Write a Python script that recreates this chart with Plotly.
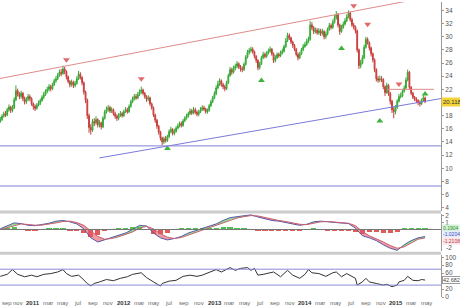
import plotly.graph_objects as go
import pandas as pd

# ---------------- weekly OHLC ----------------
close = [17.4,17.9,18.3,18.1,18.9,19.3,18.8,19.2,20.4,21.8,
21.3,20.9,21.4,20.6,20.1,20.5,20.9,20.6,19.8,19.4,
19.1,19.6,19.9,20.3,20.8,21.2,21.7,22.0,22.4,22.1,
22.7,23.3,23.6,24.1,24.6,24.4,25.1,24.7,23.9,23.2,
22.7,23.1,22.6,22.9,23.6,24.3,23.8,23.0,21.6,20.4,
18.0,16.2,15.8,17.1,16.9,17.4,16.6,16.9,16.3,17.6,
18.6,18.9,19.2,18.7,18.9,18.3,17.9,17.6,18.1,18.3,
18.0,18.6,18.9,18.6,19.4,20.1,20.5,20.9,20.7,21.2,
21.6,21.9,21.4,20.9,20.5,20.7,19.8,19.2,18.1,17.3,
16.4,15.5,14.6,14.0,14.5,14.2,14.8,15.6,15.9,15.3,
15.6,16.1,16.4,16.8,16.5,17.2,17.6,17.9,18.3,18.7,
18.4,18.9,18.5,18.2,18.6,18.9,19.2,19.0,18.6,18.8,
19.5,20.1,20.7,21.3,22.2,22.8,23.3,22.7,22.4,22.1,
23.0,24.1,25.0,24.6,25.2,25.5,25.9,25.4,25.1,25.0,
25.8,26.9,27.6,27.9,28.1,27.7,27.0,26.4,25.3,25.9,
26.8,27.3,27.0,27.5,27.8,28.1,27.4,26.4,26.8,27.3,
27.1,27.5,27.8,28.5,29.4,30.2,29.8,29.2,28.7,28.1,
27.3,26.8,27.4,28.0,28.5,28.8,29.3,29.6,31.8,31.4,
30.8,31.0,30.6,30.9,30.5,30.8,30.0,30.4,31.1,31.7,
31.4,32.2,32.9,33.4,31.8,30.8,31.4,31.9,32.4,33.0,
33.6,32.6,31.8,31.5,30.9,28.0,25.6,26.0,26.8,28.4,
29.6,29.1,28.3,27.4,26.5,25.0,23.6,23.4,23.6,23.5,
22.4,21.5,22.6,21.4,20.2,18.9,18.6,19.3,20.2,20.9,
21.0,21.7,22.2,23.4,24.6,22.3,21.4,20.8,20.5,20.3,
20.0,19.8,20.3,20.7,20.12]

open_ = [17.1,17.4,17.9,18.3,18.1,18.9,19.3,18.8,19.2,20.4,
21.8,21.3,20.9,21.4,20.6,20.1,20.5,20.9,20.6,19.8,
19.4,19.1,19.6,19.9,20.3,20.8,21.2,21.7,22.0,22.4,
22.1,22.7,23.3,23.6,24.1,24.6,24.4,25.1,24.7,23.9,
23.2,22.7,23.1,22.6,22.9,23.6,24.3,23.8,23.0,21.6,
20.4,18.0,16.2,15.8,17.1,16.9,17.4,16.6,16.9,16.3,
17.6,18.6,18.9,19.2,18.7,18.9,18.3,17.9,17.6,18.1,
18.3,18.0,18.6,18.9,18.6,19.4,20.1,20.5,20.9,20.7,
21.2,21.6,21.9,21.4,20.9,20.5,20.7,19.8,19.2,18.1,
17.3,16.4,15.5,14.6,14.0,14.5,14.2,14.8,15.6,15.9,
15.3,15.6,16.1,16.4,16.8,16.5,17.2,17.6,17.9,18.3,
18.7,18.4,18.9,18.5,18.2,18.6,18.9,19.2,19.0,18.6,
18.8,19.5,20.1,20.7,21.3,22.2,22.8,23.3,22.7,22.4,
22.1,23.0,24.1,25.0,24.6,25.2,25.5,25.9,25.4,25.1,
25.0,25.8,26.9,27.6,27.9,28.1,27.7,27.0,26.4,25.3,
25.9,26.8,27.3,27.0,27.5,27.8,28.1,27.4,26.4,26.8,
27.3,27.1,27.5,27.8,28.5,29.4,30.2,29.8,29.2,28.7,
28.1,27.3,26.8,27.4,28.0,28.5,28.8,29.3,29.6,31.8,
31.4,30.8,31.0,30.6,30.9,30.5,30.8,30.0,30.4,31.1,
31.7,31.4,32.2,32.9,33.4,31.8,30.8,31.4,31.9,32.4,
33.0,33.6,32.6,31.8,31.5,30.9,28.0,25.6,26.0,26.8,
28.4,29.6,29.1,28.3,27.4,26.5,25.0,23.6,23.4,23.6,
23.5,22.4,21.5,22.6,21.4,20.2,18.9,18.6,19.3,20.2,
20.9,21.0,21.7,22.2,23.4,24.6,22.3,21.4,20.8,20.5,
20.3,20.0,19.8,20.3,20.7]

high = [17.8,18.2,18.6,18.7,19.2,19.7,19.5,19.6,20.8,22.6,
22.1,21.6,21.8,21.6,20.9,20.8,21.3,21.2,20.8,20.0,
19.7,19.9,20.3,20.6,21.1,21.6,22.0,22.4,22.8,22.7,
23.0,23.6,24.0,24.5,25.0,25.1,25.6,25.4,24.9,24.1,
23.4,23.5,23.3,23.3,24.0,24.8,24.6,24.0,23.2,21.8,
20.6,18.3,16.7,17.5,17.6,17.9,17.6,17.3,17.1,17.9,
18.9,19.4,19.6,19.5,19.3,19.1,18.6,18.2,18.4,18.7,
18.6,18.9,19.3,19.2,19.7,20.4,20.9,21.3,21.3,21.6,
22.0,22.4,22.1,21.6,21.1,21.1,20.9,20.0,19.4,18.3,
17.5,16.6,15.7,14.8,14.8,14.9,15.1,15.9,16.3,16.1,
16.0,16.4,16.8,17.1,17.1,17.5,17.9,18.3,18.6,19.1,
19.0,19.3,19.2,18.8,18.9,19.3,19.6,19.5,19.2,19.1,
19.8,20.4,21.0,21.7,22.6,23.3,23.7,23.5,23.0,22.7,
23.3,24.4,25.4,25.3,25.6,25.9,26.3,26.1,25.7,25.5,
26.1,27.2,28.0,28.3,28.5,28.4,27.9,27.2,26.6,26.2,
27.1,27.7,27.6,27.8,28.2,28.5,28.3,27.6,27.2,27.6,
27.6,27.9,28.2,28.8,29.8,30.6,30.5,30.0,29.4,28.9,
28.3,27.6,27.7,28.3,28.9,29.2,29.7,30.0,32.4,32.2,
31.6,31.4,31.3,31.3,31.2,31.2,31.0,30.8,31.4,32.1,
32.0,32.6,33.3,33.9,33.6,32.0,31.8,32.3,32.8,33.4,
34.0,33.8,32.9,32.1,31.7,31.1,28.2,26.5,27.2,28.8,
30.0,29.9,29.3,28.5,27.6,26.7,25.2,24.0,24.1,24.0,
23.7,22.6,23.0,22.8,21.6,20.4,19.3,19.6,20.5,21.3,
21.5,22.0,22.6,23.8,25.0,24.8,22.5,21.6,21.0,20.8,
20.5,20.3,20.6,21.1,20.9]

low = [16.9,17.2,17.7,17.8,17.9,18.6,18.4,18.5,19.0,20.2,
20.9,20.5,20.6,20.2,19.7,19.8,20.2,20.2,19.5,18.9,
18.7,18.9,19.4,19.6,20.1,20.5,21.0,21.4,21.7,21.7,
21.9,22.5,23.0,23.4,23.9,24.0,24.2,24.3,23.5,22.9,
22.3,22.4,22.2,22.3,22.7,23.4,23.5,22.6,21.2,19.9,
17.5,15.4,15.1,15.5,16.4,16.6,16.2,16.2,15.9,16.1,
17.4,18.3,18.6,18.4,18.4,18.0,17.5,17.2,17.3,17.8,
17.7,17.8,18.4,18.3,18.4,19.2,19.9,20.3,20.4,20.5,
21.0,21.3,21.1,20.6,20.1,20.2,19.5,18.9,17.8,16.9,
16.0,15.1,14.2,13.5,13.7,13.9,14.0,14.6,15.3,15.0,
15.0,15.4,15.9,16.2,16.2,16.3,17.0,17.4,17.7,18.1,
18.1,18.2,18.2,17.9,17.9,18.4,18.7,18.7,18.3,18.3,
18.6,19.3,19.9,20.5,21.1,22.0,22.5,22.4,22.0,21.7,
21.9,22.8,23.9,24.2,24.4,24.9,25.2,25.1,24.7,24.6,
24.8,25.6,26.7,27.3,27.6,27.4,26.7,26.0,24.9,25.0,
25.7,26.6,26.7,26.8,27.3,27.6,27.1,26.0,26.1,26.6,
26.8,26.9,27.3,27.6,28.3,29.2,29.5,28.9,28.3,27.8,
27.0,26.4,26.6,27.2,27.8,28.3,28.6,29.0,29.4,31.0,
30.4,30.5,30.3,30.3,30.1,30.2,29.6,29.7,30.2,30.9,
31.1,31.2,32.0,32.6,31.4,30.3,30.6,31.2,31.7,32.2,
32.8,32.3,31.5,31.1,30.5,27.6,25.1,25.2,25.8,26.6,
28.2,28.8,27.9,27.0,26.1,24.6,23.2,23.0,23.1,23.1,
22.0,21.0,21.3,21.0,19.7,18.4,17.6,18.2,19.0,20.0,
20.6,20.8,21.5,22.0,23.2,22.0,21.1,20.5,20.2,19.9,
19.6,19.4,19.6,20.1,19.9]

first_week = "2010-08-23"
x_range = ["2010-08-22", "2015-06-30"]
last_price = 20.118

# ---------------- signals (week index, price) ----------------
sell_idx = [38, 81, 203, 211, 229]
sell_px = [26.5, 23.6, 34.7, 31.9, 22.8]
buy_idx = [96, 150, 196, 218, 244]
buy_px = [13.0, 23.35, 28.2, 17.2, 21.3]

# ---------------- drawn lines ----------------
upper_trend = [("2010-08-22", 23.65), ("2015-06-30", 36.4)]
lower_trend = [("2011-09-26", 11.57), ("2015-06-30", 20.6)]
support_levels = [13.4, 7.3]
resist_line = [("2014-11-25", 22.0), ("2015-06-02", 22.0)]

# ---------------- MACD (every 4 weeks) ----------------
macd_idx = list(range(0, 245, 4))
macd = [0.1,0.5,0.95,0.85,0.6,0.55,0.7,0.9,1.2,1.3,
1.1,0.8,0.1,-1.2,-1.8,-1.5,-1.2,-0.8,-0.5,0.0,
0.6,0.5,-0.5,-1.2,-1.5,-1.3,-1.0,-0.5,-0.2,0.2,
0.5,0.8,1.3,1.7,1.85,2.0,2.1,1.8,1.5,1.3,
1.2,1.0,0.8,0.6,0.75,1.1,1.2,1.1,0.95,0.9,
0.85,0.2,-0.9,-1.2,-1.6,-2.2,-2.7,-3.0,-2.2,-1.6,
-1.2,-1.02]
signal = [0.0,0.25,0.6,0.8,0.72,0.62,0.63,0.75,0.95,1.15,
1.2,1.0,0.6,-0.2,-1.0,-1.4,-1.3,-1.05,-0.75,-0.35,
0.2,0.45,0.1,-0.6,-1.1,-1.3,-1.15,-0.8,-0.45,-0.05,
0.3,0.6,0.95,1.35,1.65,1.85,2.0,1.95,1.7,1.5,
1.3,1.15,0.95,0.75,0.7,0.9,1.1,1.15,1.05,0.95,
0.9,0.55,-0.3,-0.9,-1.3,-1.8,-2.3,-2.7,-2.5,-1.9,
-1.4,-1.21]
hist = [0.1,0.25,0.35,0.05,-0.12,-0.07,0.07,0.15,0.25,0.15,
-0.1,-0.2,-0.5,-1.0,-0.8,-0.1,0.1,0.25,0.25,0.35,
0.4,0.05,-0.6,-0.6,-0.4,0.0,0.15,0.3,0.25,0.25,
0.2,0.2,0.35,0.35,0.2,0.15,0.1,-0.15,-0.2,-0.2,
-0.1,-0.15,-0.15,-0.15,0.05,0.2,0.1,-0.05,-0.1,-0.05,
-0.05,-0.35,-0.6,-0.3,-0.3,-0.4,-0.4,-0.3,0.3,0.3,
0.2,0.19]
macd_labels = [("0.1904", 0.25, "#2c8c2c", "#d6f2d6"),
               ("-1.0204", -0.7, "#3a4fc0", "#e6ecfa"),
               ("-1.2108", -1.65, "#c04050", "#fbe3e6")]
macd_axis_ticks = [1, 2]
macd_low_tick = ("-2", -2.6)

# ---------------- RSI ----------------
rsi_idx = [0,4,7,10,14,18,21,25,29,33,36,38,41,45,47,50,52,54,57,61,
65,69,73,76,81,84,88,92,93,97,101,105,109,113,116,120,124,127,132,135,
138,142,144,146,148,151,157,161,165,168,172,175,177,179,183,187,191,193,196,199,
202,204,205,208,210,212,216,220,222,225,228,229,232,234,237,240,242,244]
rsi = [52,57,69,57,51,55,51,57,59,63,69,59,52,55,47,34,28,34,38,44,
41,47,51,57,61,49,38,27.5,34,40,42,52,55,52,55,61,69,63,74,67,
72,74,67,72,55,57,63,51,67,55,47,57,69,61,59,52,61,63,51,59,
52,47,30,38,47,38,34,30,32,26,30,38,42,52,42,41,44,42.682]
rsi_levels = [70, 30]

# ---------------- x tick labels ----------------
xtick_dates = ["2010-09-01","2010-11-01","2011-01-01","2011-03-01","2011-05-01","2011-07-01",
"2011-09-01","2011-11-01","2012-01-01","2012-03-01","2012-05-01","2012-07-01",
"2012-09-01","2012-11-01","2013-01-01","2013-03-01","2013-05-01","2013-07-01",
"2013-09-01","2013-11-01","2014-01-01","2014-03-01","2014-05-01","2014-07-01",
"2014-09-01","2014-11-01","2015-01-01","2015-03-01","2015-05-01"]
xtick_text = ["sep","nov","2011","mar","may","jul","sep","nov","2012","mar","may","jul",
"sep","nov","2013","mar","may","jul","sep","nov","2014","mar","may","jul",
"sep","nov","2015","mar","may"]

# ================= figure =================
dates = pd.date_range(first_week, periods=len(close), freq="7D")
FONT = "Liberation Sans"
NARROW = "Liberation Sans Narrow, Liberation Sans"
fig = go.Figure()

fig.add_trace(go.Candlestick(
    x=dates, open=open_, high=high, low=low, close=close,
    increasing=dict(line=dict(color="#33a833", width=1), fillcolor="#66d966"),
    decreasing=dict(line=dict(color="#c83c3c", width=1), fillcolor="#e86868"),
    whiskerwidth=0, xaxis="x", yaxis="y", showlegend=False, hoverinfo="skip"))

fig.add_trace(go.Scatter(x=[dates[i] for i in sell_idx], y=sell_px, mode="markers",
    marker=dict(symbol="triangle-down", size=6, color="#e06a6a"),
    xaxis="x", yaxis="y", showlegend=False, hoverinfo="skip"))
fig.add_trace(go.Scatter(x=[dates[i] for i in buy_idx], y=buy_px, mode="markers",
    marker=dict(symbol="triangle-up", size=6, color="#3cb43c"),
    xaxis="x", yaxis="y", showlegend=False, hoverinfo="skip"))

for pts, col in [(upper_trend, "#e08a8a"), (lower_trend, "#7a7ad8"), (resist_line, "#e08a8a")]:
    fig.add_trace(go.Scatter(x=[p[0] for p in pts], y=[p[1] for p in pts], mode="lines",
        line=dict(color=col, width=1), xaxis="x", yaxis="y", showlegend=False, hoverinfo="skip"))

# MACD band polygons
mdates = [dates[i] for i in macd_idx]
gx, gy, rx, ry = [], [], [], []
for k in range(len(macd) - 1):
    px = [mdates[k], mdates[k+1], mdates[k+1], mdates[k], mdates[k], None]
    py = [macd[k], macd[k+1], signal[k+1], signal[k], macd[k], None]
    if (macd[k] + macd[k+1]) >= (signal[k] + signal[k+1]):
        gx += px; gy += py
    else:
        rx += px; ry += py
fig.add_trace(go.Scatter(x=gx, y=gy, fill="toself", fillcolor="rgba(70,200,70,0.6)",
    mode="none", xaxis="x", yaxis="y2", showlegend=False, hoverinfo="skip"))
fig.add_trace(go.Scatter(x=rx, y=ry, fill="toself", fillcolor="rgba(230,90,100,0.6)",
    mode="none", xaxis="x", yaxis="y2", showlegend=False, hoverinfo="skip"))
fig.add_trace(go.Bar(x=mdates, y=hist, width=3*7*86400000,
    marker=dict(color=["#4cc24c" if h >= 0 else "#e05a5a" for h in hist], line=dict(width=0)),
    xaxis="x", yaxis="y2", showlegend=False, hoverinfo="skip"))
fig.add_trace(go.Scatter(x=mdates, y=macd, mode="lines", line=dict(color="#5a5aa8", width=1),
    xaxis="x", yaxis="y2", showlegend=False, hoverinfo="skip"))
fig.add_trace(go.Scatter(x=mdates, y=signal, mode="lines", line=dict(color="#c86070", width=1),
    xaxis="x", yaxis="y2", showlegend=False, hoverinfo="skip"))

# RSI
fig.add_trace(go.Scatter(x=[dates[i] for i in rsi_idx], y=rsi, mode="lines",
    line=dict(color="#333333", width=1), xaxis="x", yaxis="y3", showlegend=False, hoverinfo="skip"))

shapes = []
for lv in support_levels:
    shapes.append(dict(type="line", xref="paper", x0=0, x1=1, yref="y", y0=lv, y1=lv,
                       line=dict(color="#8080d8", width=1)))
for lv in rsi_levels:
    shapes.append(dict(type="line", xref="paper", x0=0, x1=1, yref="y3", y0=lv, y1=lv,
                       line=dict(color="#8a8ad8", width=1)))
shapes.append(dict(type="line", xref="paper", x0=0, x1=1, yref="y2", y0=0, y1=0,
                   line=dict(color="#777777", width=1)))
for yp in [0.2903, 0.151]:
    shapes.append(dict(type="line", xref="paper", x0=0, x1=1, yref="paper", y0=yp, y1=yp,
                       line=dict(color="#cccccc", width=3)))

ann = [dict(xref="paper", x=1.0, xanchor="left", yref="y", y=last_price, text=f"{last_price:.3f}",
            showarrow=False, bgcolor="#f3d33a", font=dict(size=6, color="#333", family=NARROW),
            borderpad=1, xshift=0)]
for txt, yv, fc, bc in macd_labels:
    ann.append(dict(xref="paper", x=1.0, xanchor="left", yref="y2", y=yv, text=txt,
                    showarrow=False, bgcolor=bc, font=dict(size=5, color=fc, family=NARROW),
                    borderpad=0, xshift=1))
ann.append(dict(xref="paper", x=1.0, xanchor="left", yref="y2", y=macd_low_tick[1],
                text=macd_low_tick[0], showarrow=False, xshift=3,
                font=dict(size=6.5, color="#555", family=FONT)))
ann.append(dict(xref="paper", x=1.0, xanchor="left", yref="y3", y=rsi[-1], text=f"{rsi[-1]:.3f}",
                showarrow=False, bgcolor="white", bordercolor="#999", borderwidth=1,
                font=dict(size=5.5, color="#444", family=NARROW), borderpad=0, xshift=1))
# x-axis labels as text under the bottom panel
for j, (d, t) in enumerate(zip(xtick_dates, xtick_text)):
    is_year = t.isdigit()
    ann.append(dict(xref="x", x=d, yref="paper", y=-0.017, yanchor="middle",
                    xanchor="left" if j == 0 else "center", xshift=-2 if j == 0 else 0,
                    text=f"<b>{t}</b>" if is_year else t, showarrow=False,
                    font=dict(size=6, color="#333" if is_year else "#666", family=FONT)))

yax = dict(side="right", showgrid=False, zeroline=False, showline=True, linecolor="#999",
           linewidth=1, ticks="outside", ticklen=2, tickcolor="#999",
           tickfont=dict(size=6.5, color="#555", family=FONT), anchor="x", fixedrange=True)

fig.update_layout(
    width=460, height=308, margin=dict(l=0, r=19, t=0, b=10),
    paper_bgcolor="white", plot_bgcolor="white", showlegend=False, bargap=0,
    xaxis=dict(range=x_range, anchor="y3", showgrid=False, zeroline=False, showline=False,
               rangeslider=dict(visible=False), showticklabels=False, ticks=""),
    yaxis=dict(yax, domain=[0.2953, 1], range=[3.56, 35.28],
               tickvals=[4,6,8,10,12,14,16,18,22,24,26,28,30,32,34]),
    yaxis2=dict(yax, domain=[0.1577, 0.2852], range=[-3.14, 2.29], tickvals=macd_axis_ticks),
    yaxis3=dict(yax, domain=[0.00336, 0.1443], range=[0, 105], tickvals=[0,20,60,80,100]),
    shapes=shapes, annotations=ann,
)

fig.write_html("out.html")
